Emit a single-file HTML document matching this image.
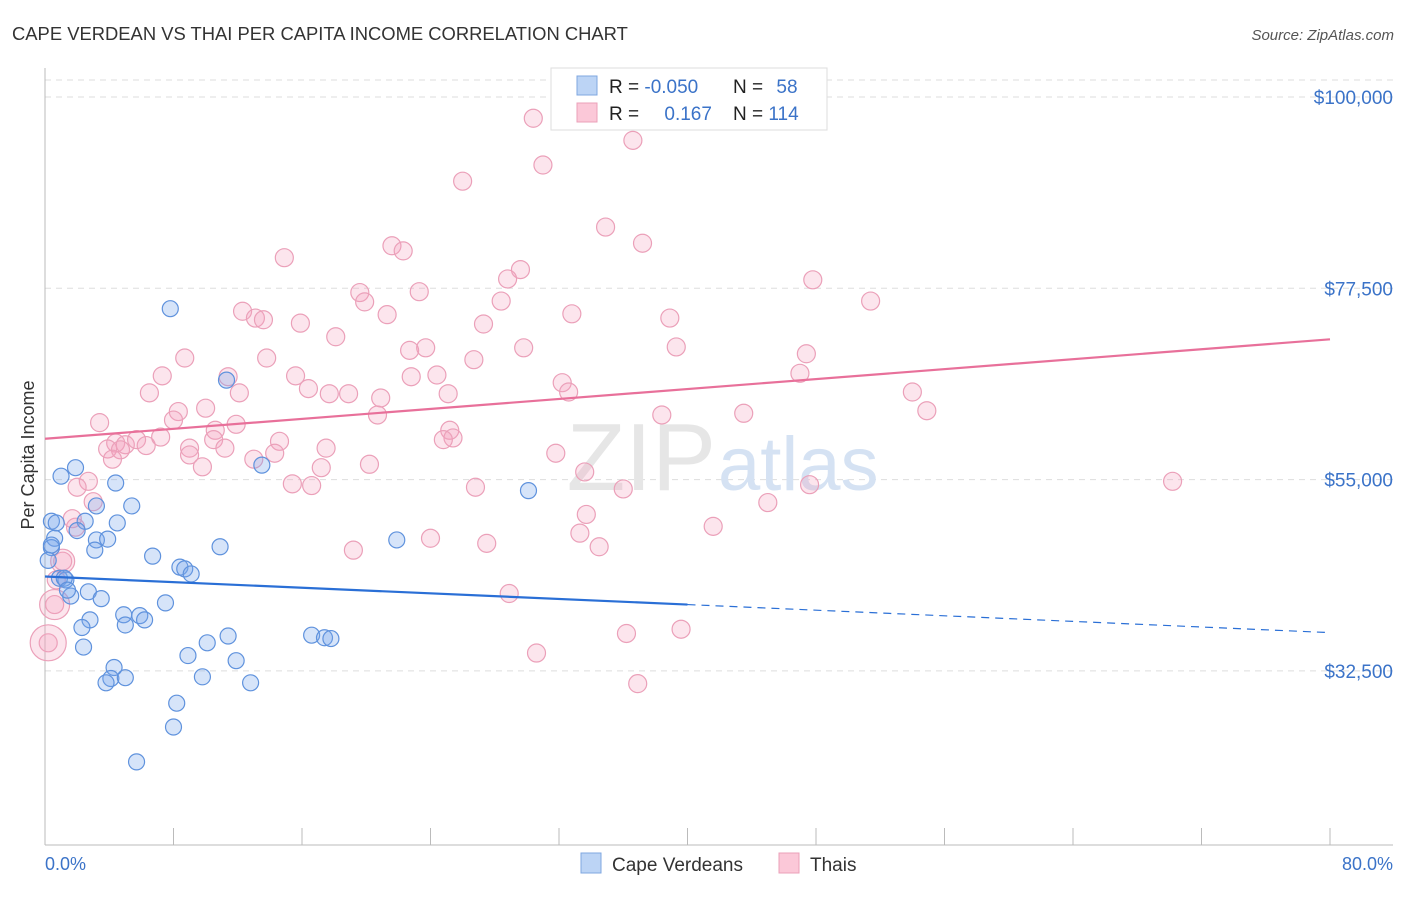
<!DOCTYPE html>
<html><head><meta charset="utf-8"><style>
body{margin:0;background:#fff;font-family:"Liberation Sans",sans-serif;}
svg text{font-family:"Liberation Sans",sans-serif;}
</style></head><body>
<svg id="chart" width="1406" height="892" xmlns="http://www.w3.org/2000/svg">
<text x="12" y="40" font-size="18.4" fill="#333">CAPE VERDEAN VS THAI PER CAPITA INCOME CORRELATION CHART</text>
<text x="1394" y="40" font-size="15" fill="#555" text-anchor="end" font-style="italic">Source: ZipAtlas.com</text>
<g id="grid"></g>
<text x="716" y="490" font-size="96" fill="#e6e6e6" text-anchor="end" font-family="Liberation Serif">ZIP</text>
<text x="718" y="490" font-size="76" fill="#d5e2f3">atlas</text>
<g id="pts"></g>
<g id="lines"></g>
<text transform="translate(34,455) rotate(-90)" font-size="18" fill="#333" text-anchor="middle">Per Capita Income</text>
<text x="45" y="870" font-size="18" fill="#3b73c8">0.0%</text>
<text x="1393" y="870" font-size="18" fill="#3b73c8" text-anchor="end">80.0%</text>
<g>
<rect x="551" y="68" width="276" height="62" fill="#fff" stroke="#ddd"/>
<rect x="577" y="76" width="20" height="19" fill="#bcd4f5" stroke="#7fa7e0"/>
<rect x="577" y="103" width="20" height="19" fill="#fbc8d8" stroke="#eba0b9"/>
<text x="609" y="93" font-size="19" fill="#222">R = <tspan fill="#3b73c8">-0.050</tspan></text>
<text x="733" y="93" font-size="19" fill="#222">N = <tspan fill="#3b73c8" dx="8">58</tspan></text>
<text x="609" y="120" font-size="19" fill="#222">R = <tspan fill="#3b73c8" dx="20">0.167</tspan></text>
<text x="733" y="120" font-size="19" fill="#222">N = <tspan fill="#3b73c8">114</tspan></text>
</g>
<g>
<rect x="581" y="853" width="20" height="20" fill="#bcd4f5" stroke="#7fa7e0"/>
<text x="612" y="871" font-size="19" fill="#333">Cape Verdeans</text>
<rect x="779" y="853" width="20" height="20" fill="#fbc8d8" stroke="#eba0b9"/>
<text x="810" y="871" font-size="19" fill="#333">Thais</text>
</g>
</svg>
<script>
const yTicks=[32.5,55,77.5,100];
const yTickLabels=["$32,500","$55,000","$77,500","$100,000"];
const xTicks=[0,8,16,24,32,40,48,56,64,72,80];
const blueX=[7.8,11.3,1.9,1.0,4.4,0.4,2.5,3.2,5.4,4.5,2.0,0.6,0.4,3.2,3.9,3.1,6.7,10.9,13.5,21.9,30.1,8.4,8.7,9.1,0.9,1.3,1.6,2.7,3.5,7.5,2.8,4.9,5.9,5.0,6.2,2.3,2.4,8.9,10.1,11.4,11.9,16.6,17.4,17.8,4.3,4.1,5.0,3.8,9.8,12.8,8.2,8.0,5.7,0.4,1.2,0.7,0.2,1.4];
const blueY=[75.1,66.7,56.4,55.4,54.6,50.1,50.1,51.9,51.9,49.9,49.0,48.1,47.0,47.9,48.0,46.7,46.0,47.1,56.7,47.9,53.7,44.7,44.5,43.9,43.4,43.2,41.3,41.8,41.0,40.5,38.5,39.1,39.0,37.9,38.5,37.6,35.3,34.3,35.8,36.6,33.7,36.7,36.4,36.3,32.9,31.6,31.7,31.1,31.8,31.1,28.7,25.9,21.8,47.3,43.4,49.9,45.5,42.0];
const pinkX=[30.4,36.6,31.0,26.0,34.9,37.2,21.6,22.3,14.9,29.6,28.8,47.8,19.6,23.3,19.9,28.4,51.4,12.3,21.3,32.8,13.1,13.6,15.9,27.3,38.9,18.1,22.7,23.7,8.7,13.8,29.8,39.3,26.7,47.4,7.3,11.4,15.6,22.8,24.4,47.0,6.5,12.1,16.4,17.7,18.9,20.9,25.1,32.2,32.6,54.0,8.3,10.0,20.7,38.4,43.5,54.9,3.4,8.0,11.9,10.6,25.2,25.4,24.8,4.4,5.0,5.7,6.3,7.2,9.0,10.5,11.2,14.6,17.5,3.9,4.7,9.0,13.0,14.3,4.2,9.8,17.2,20.2,31.8,33.6,2.7,2.0,15.4,16.6,26.8,36.0,47.6,70.2,3.0,45.0,33.7,1.7,1.9,41.6,33.3,24.0,27.5,34.5,19.2,1.1,0.7,28.9,0.6,36.2,39.6,30.6,0.2,36.9];
const pinkY=[97.5,94.9,92.0,90.1,84.7,82.8,82.5,81.9,81.1,79.7,78.6,78.5,77.0,77.1,75.9,76.0,76.0,74.8,74.4,74.5,74.0,73.8,73.4,73.3,74.0,71.8,70.2,70.5,69.3,69.3,70.5,70.6,69.1,69.8,67.2,67.1,67.2,67.1,67.3,67.5,65.2,65.2,65.7,65.1,65.1,64.6,65.1,66.4,65.3,65.3,63.0,63.4,62.6,62.6,62.8,63.1,61.7,62.0,61.5,60.8,60.8,59.9,59.7,59.3,59.1,59.7,59.0,60.0,58.7,59.7,58.7,59.5,58.7,58.6,58.5,57.9,57.4,58.1,57.4,56.5,56.4,56.8,58.1,55.9,54.8,54.1,54.5,54.3,54.1,53.9,54.4,54.8,52.4,52.3,50.9,50.4,49.4,49.5,48.7,48.1,47.5,47.1,46.7,45.4,43.2,41.6,40.3,36.9,37.4,34.6,35.8,31.0];
const bigPinkX=[1.1,0.6,0.2];
const bigPinkY=[45.4,40.3,35.8];
const blueTrend=[43.6,37.0];
const pinkTrend=[59.8,71.5];
const blueSolidEnd=40;
const NS="http://www.w3.org/2000/svg";
const xs=p=>45+p*16.0625;
const ys=v=>97+(100-v)*8.502;
function mk(t,a,parent){const e=document.createElementNS(NS,t);for(const k in a)e.setAttribute(k,a[k]);parent.appendChild(e);return e;}
const grid=document.getElementById('grid');
let g=mk('line',{x1:45,x2:1393,y1:80,y2:80,stroke:'#ddd','stroke-dasharray':'6,5'},grid);


yTicks.forEach((v,i)=>{
 const l=mk('line',{x1:45,x2:1393,y1:ys(v),y2:ys(v),stroke:'#ddd','stroke-dasharray':'6,5'},grid);
 
 
 const t=mk('text',{x:1393,y:ys(v)+7,'font-size':19,fill:'#3b73c8','text-anchor':'end'},grid);
 t.textContent=yTickLabels[i];
 
 
});
let ax=mk('line',{x1:45,x2:45,y1:68,y2:845,stroke:'#bbb'},grid);


let bx=mk('line',{x1:45,x2:1393,y1:845,y2:845,stroke:'#bbb'},grid);


xTicks.forEach(p=>{
 const l=mk('line',{x1:xs(p),x2:xs(p),y1:828,y2:845,stroke:'#bbb'},grid);
 
 
});
const pts=document.getElementById('pts');
pinkX.forEach((x,i)=>{
 const c=mk('circle',{cx:xs(x),cy:ys(pinkY[i]),r:9,fill:'rgba(244,160,190,0.28)',stroke:'#eba0b9','stroke-width':1.2},pts);
 
 
});
bigPinkX.forEach((x,i)=>{
 const c=mk('circle',{cx:xs(x),cy:ys(bigPinkY[i]),r:12+i*3,fill:'rgba(244,160,190,0.28)',stroke:'#eba0b9','stroke-width':1.2},pts);
 
 
});
blueX.forEach((x,i)=>{
 const c=mk('circle',{cx:xs(x),cy:ys(blueY[i]),r:8,fill:'rgba(120,165,235,0.3)',stroke:'#5f92dd','stroke-width':1.2},pts);
 
 
});
const lines=document.getElementById('lines');
const bAt=p=>blueTrend[0]+(blueTrend[1]-blueTrend[0])*p/80;
let l1=mk('line',{x1:xs(0),y1:ys(bAt(0)),x2:xs(blueSolidEnd),y2:ys(bAt(blueSolidEnd)),stroke:'#2a6fd6','stroke-width':2.2},lines);


let l2=mk('line',{x1:xs(blueSolidEnd),y1:ys(bAt(blueSolidEnd)),x2:xs(80),y2:ys(bAt(80)),stroke:'#2a6fd6','stroke-width':1.2,'stroke-dasharray':'8,6'},lines);


let l3=mk('line',{x1:xs(0),y1:ys(pinkTrend[0]),x2:xs(80),y2:ys(pinkTrend[1]),stroke:'#e8709a','stroke-width':2.2},lines);


</script>
</body></html>
